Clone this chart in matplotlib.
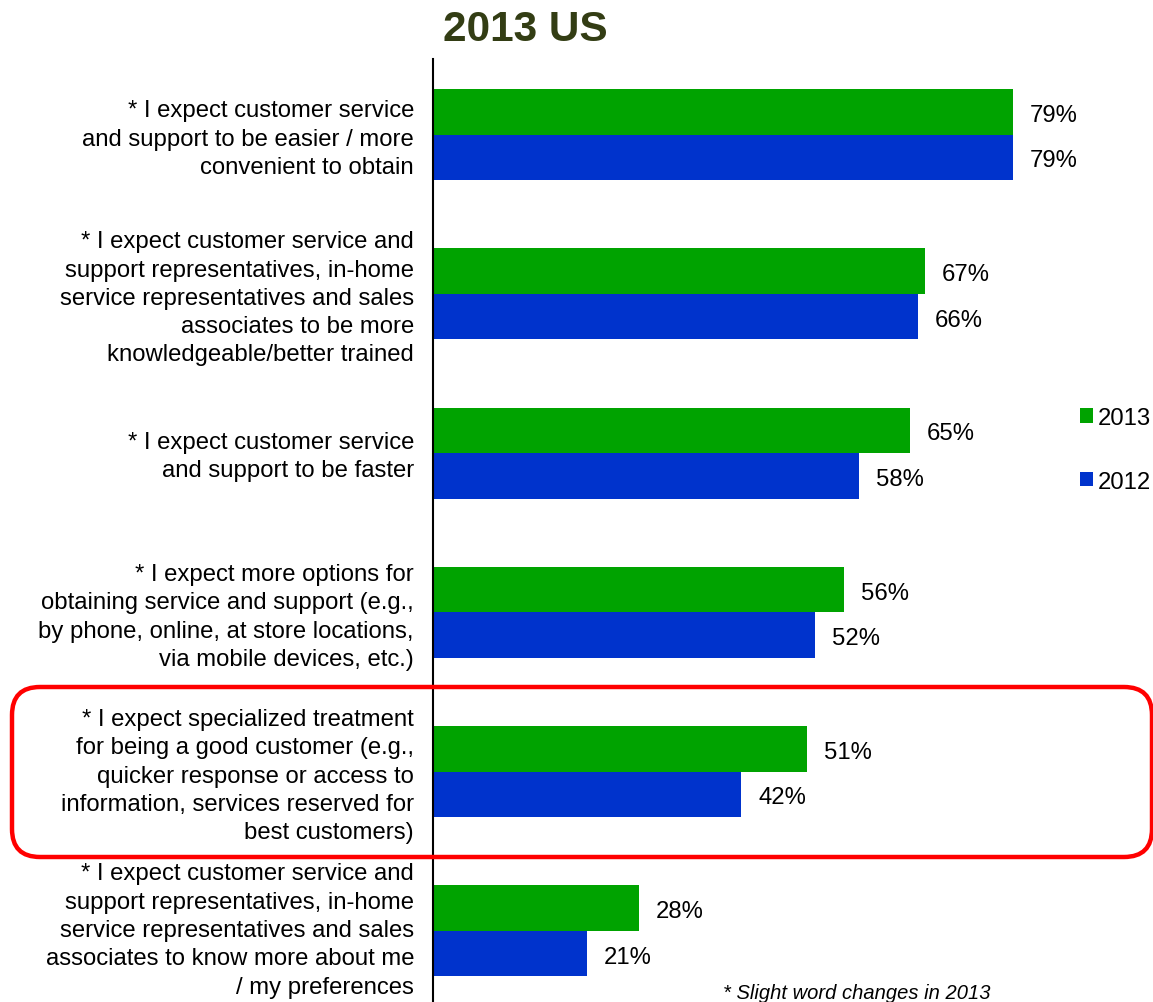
import matplotlib
matplotlib.use("Agg")
import matplotlib.pyplot as plt
from matplotlib.patches import FancyBboxPatch
from matplotlib.transforms import IdentityTransform

plt.rcParams['font.family'] = ['Liberation Sans', 'DejaVu Sans']

categories = [
    "* I expect customer service\nand support to be easier / more\nconvenient to obtain",
    "* I expect customer service and\nsupport representatives, in-home\nservice representatives and sales\nassociates to be more\nknowledgeable/better trained",
    "* I expect customer service\nand support to be faster",
    "* I expect more options for\nobtaining service and support (e.g.,\nby phone, online, at store locations,\nvia mobile devices, etc.)",
    "* I expect specialized treatment\nfor being a good customer (e.g.,\nquicker response or access to\ninformation, services reserved for\nbest customers)",
    "* I expect customer service and\nsupport representatives, in-home\nservice representatives and sales\nassociates to know more about me\n/ my preferences",
]
values_2013 = [79, 67, 65, 56, 51, 28]
values_2012 = [79, 66, 58, 52, 42, 21]
series_labels = ["2013", "2012"]

GREEN = "#00A300"
BLUE = "#0033CC"
FS = 17.2

W, H = 1153, 1003
fig = plt.figure(figsize=(W / 100, H / 100), dpi=100)
ax = fig.add_axes([433 / W, 0, (W - 433) / W, (H - 60) / H])

bar_h = 0.2855
ys = list(range(len(categories)))
b13 = ax.barh([y - bar_h / 2 for y in ys], values_2013, height=bar_h, color=GREEN, label=series_labels[0])
b12 = ax.barh([y + bar_h / 2 for y in ys], values_2012, height=bar_h, color=BLUE, label=series_labels[1])

ax.set_xlim(0, (W - 433) / 7.342)
ax.set_ylim(5.446, -0.474)

for s in ["top", "right", "bottom"]:
    ax.spines[s].set_visible(False)
ax.spines["left"].set_linewidth(1.5)
ax.set_xticks([])
ax.set_yticks([])

# value labels just past each bar end
for y, v13, v12 in zip(ys, values_2013, values_2012):
    ax.annotate(f"{v13}%", xy=(v13, y - bar_h / 2), xytext=(17, -3), textcoords="offset pixels",
                ha="left", va="center", fontsize=FS)
    ax.annotate(f"{v12}%", xy=(v12, y + bar_h / 2), xytext=(17, -3), textcoords="offset pixels",
                ha="left", va="center", fontsize=FS)

# right-aligned statement labels left of the axis line
label_dy = [-4, -4, -3, -4, -4, 1]
for y, lab, dy in zip(ys, categories, label_dy):
    ax.annotate(lab, xy=(0, y), xytext=(-19, dy), textcoords="offset pixels",
                ha="right", va="center", fontsize=FS, multialignment="right",
                linespacing=1.37, annotation_clip=False)

fig.text(525 / W, 1 - 30 / H, "2013 US", ha="center", va="center",
         fontsize=30.5, fontweight="bold", color="#333D14")

leg = ax.legend(handles=[b13, b12], loc="upper left",
                bbox_to_anchor=(1068 / W, 1 - 396 / H), bbox_transform=fig.transFigure,
                frameon=False, fontsize=FS, handlelength=0.55, handleheight=0.55,
                handletextpad=0.2, labelspacing=1.75, borderpad=0)

fig.text(723 / W, 1 - 994 / H, "* Slight word changes in 2013", ha="left", va="center",
         fontsize=14.5, style="italic")

# highlight frame around the specialized-treatment row
box = FancyBboxPatch((12, H - 858), 1140, 170,
                     boxstyle="round,pad=0,rounding_size=28",
                     transform=IdentityTransform(), fill=False,
                     edgecolor="#FF0000", linewidth=3.2)
fig.add_artist(box)

fig.savefig("out.png", dpi=100)
